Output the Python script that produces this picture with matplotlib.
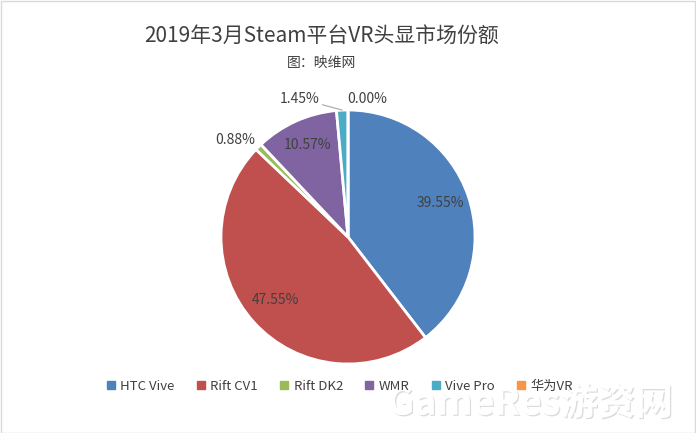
import matplotlib
matplotlib.use("Agg")
import matplotlib.pyplot as plt
import matplotlib.patheffects as pe
import numpy as np

plt.rcParams["font.family"] = ["Noto Sans CJK SC", "DejaVu Sans"]

labels = ["HTC Vive", "Rift CV1", "Rift DK2", "WMR", "Vive Pro", "华为VR"]
shares = [39.55, 47.55, 0.88, 10.57, 1.45, 0.00]
colors = ["#4F81BD", "#C0504D", "#9BBB59", "#8064A2", "#4BACC6", "#F79646"]
text_col = "#404040"

fig = plt.figure(figsize=(6.96, 4.33), dpi=100)
W, H = 696, 433
cx, cy, r = 348, 237, 127
ax = fig.add_axes([(cx - r) / W, (H - cy - r) / H, 2 * r / W, 2 * r / H])

wedges, _ = ax.pie(shares, colors=colors, startangle=90, counterclock=False,
                   radius=1, wedgeprops=dict(edgecolor="white", linewidth=2))
ax.set_xlim(-1, 1)
ax.set_ylim(-1, 1)
ax.axis("off")

# inside labels for the big slices
for i in [0, 1, 3]:
    w = wedges[i]
    ang = np.deg2rad((w.theta1 + w.theta2) / 2)
    d = 0.77
    ax.text(d * np.cos(ang), d * np.sin(ang) + 0.02, "%.2f%%" % shares[i],
            ha="center", va="center", fontsize=10, color=text_col)

# small slices outside
ax.text(-0.89, 0.76, "%.2f%%" % shares[2], ha="center", va="center",
        fontsize=10, color=text_col)
ax.text(0.15, 1.09, "%.2f%%" % shares[5], ha="center", va="center",
        fontsize=10, color=text_col)

# Vive Pro label with leader line
w = wedges[4]
ang = np.deg2rad((w.theta1 + w.theta2) / 2)
ax.annotate("%.2f%%" % shares[4], xy=(1.0 * np.cos(ang), 1.0 * np.sin(ang)),
            xytext=(-0.38, 1.09), ha="center", va="center", fontsize=10,
            color=text_col,
            arrowprops=dict(arrowstyle="-", color="#A6A6A6", lw=0.8,
                            shrinkA=18, shrinkB=0))

fig.text(322 / W, 1 - 36 / H, "2019年3月Steam平台VR头显市场份额", ha="center",
         va="center", fontsize=15, color=text_col)
fig.text(322 / W, 1 - 63 / H, "图：映维网", ha="center", va="center",
         fontsize=10, color=text_col)

handles = [plt.Rectangle((0, 0), 1, 1, color=c) for c in colors]
fig.legend(handles, labels, loc="center", bbox_to_anchor=(340 / W, 1 - 386 / H),
           ncol=6, frameon=False, fontsize=9.5, handlelength=0.6,
           handleheight=0.6, handletextpad=0.4, columnspacing=1.7,
           labelcolor=text_col)

# watermark
fig.text(530 / W, 1 - 403 / H, "GameRes游资网", ha="center", va="center",
         fontsize=27, color="white", fontweight="bold",
         path_effects=[pe.withSimplePatchShadow(offset=(1, -1),
                                                shadow_rgbFace="#BBBBBB",
                                                alpha=0.5), pe.Normal()])

fig.patches.append(plt.Rectangle((0.001, 0.001), 0.997, 0.997,
                                 transform=fig.transFigure, fill=False,
                                 edgecolor="#D9D9D9", lw=1))

fig.savefig("out.png", dpi=100, facecolor="white")
